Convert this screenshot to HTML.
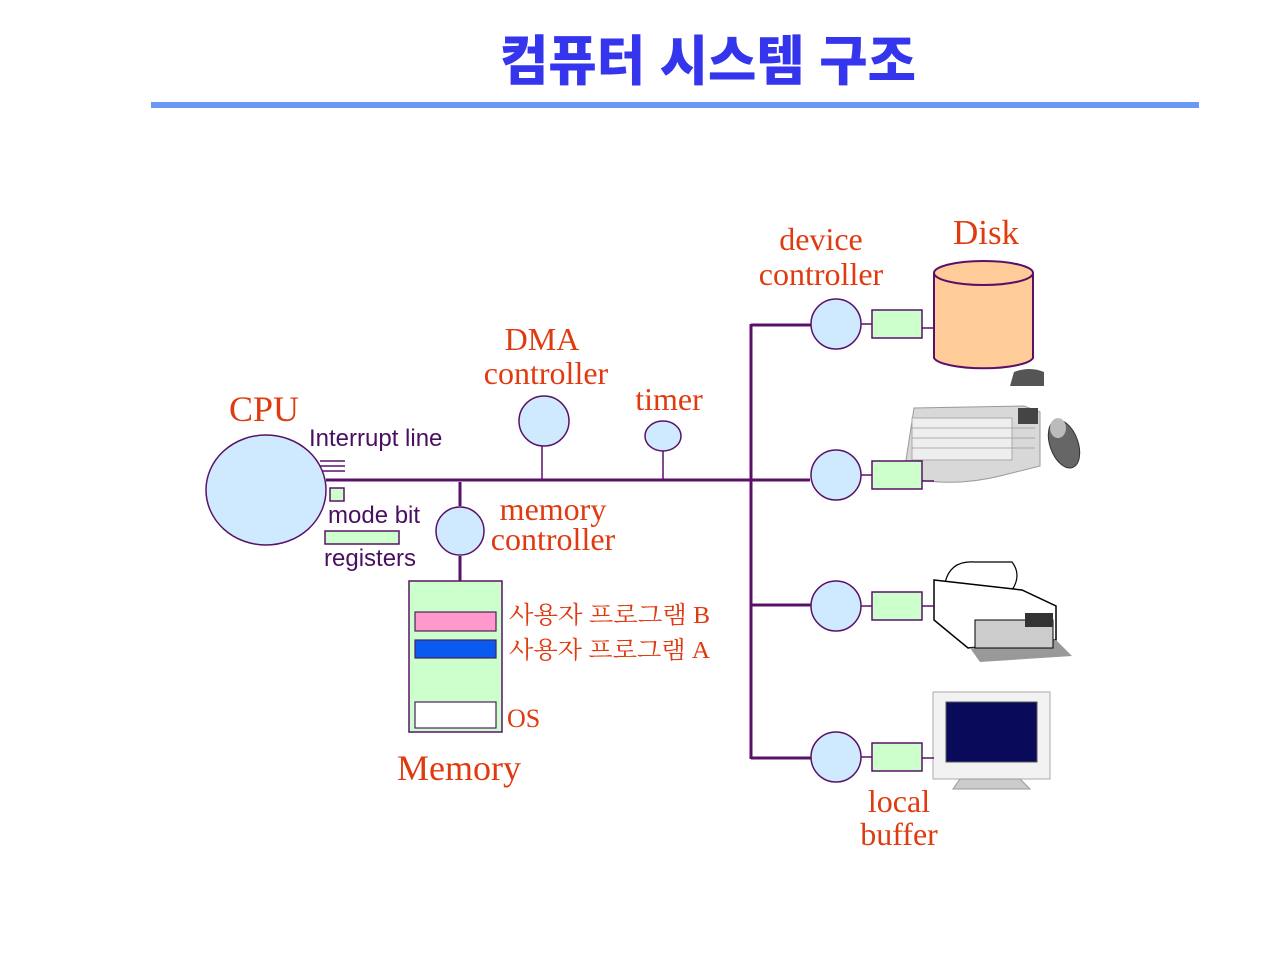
<!DOCTYPE html>
<html><head><meta charset="utf-8"><style>
html,body{margin:0;padding:0;background:#fff;width:1280px;height:960px;overflow:hidden}
svg{display:block}
.r{font-family:"Liberation Serif",serif;fill:#e03a10}
.s{font-family:"Liberation Sans",sans-serif;fill:#4a1060}
.k{font-family:"Liberation Serif","Noto Serif CJK SC","Noto Sans CJK KR",serif;fill:#e03a10}
</style></head><body>
<svg width="1280" height="960" viewBox="0 0 1280 960" xmlns="http://www.w3.org/2000/svg">
<text x="708" y="80" text-anchor="middle" font-family="'Liberation Sans','Noto Sans CJK KR',sans-serif" font-weight="900" font-size="54" fill="#3535ee" textLength="416" lengthAdjust="spacingAndGlyphs">컴퓨터 시스템 구조</text>
<rect x="151" y="102" width="1048" height="6" fill="#6b98f0"/>

<g stroke="#5a1068" fill="none" stroke-width="3">
<line x1="326" y1="480" x2="810" y2="480"/>
<line x1="751" y1="324" x2="751" y2="759"/>
<line x1="751" y1="325" x2="811" y2="325"/>
<line x1="751" y1="605" x2="811" y2="605"/>
<line x1="751" y1="758" x2="811" y2="758"/>
<line x1="460" y1="482" x2="460" y2="506"/>
<line x1="460" y1="556" x2="460" y2="581"/>
</g>
<g stroke="#5a1068" stroke-width="1.5" fill="none">
<line x1="542" y1="446" x2="542" y2="480"/>
<line x1="663" y1="451" x2="663" y2="480"/>
<line x1="861" y1="324" x2="872" y2="324"/>
<line x1="861" y1="475" x2="872" y2="475"/>
<line x1="861" y1="606" x2="872" y2="606"/>
<line x1="861" y1="757" x2="872" y2="757"/>
<line x1="320" y1="461" x2="345" y2="461"/>
<line x1="320" y1="466" x2="345" y2="466"/>
<line x1="320" y1="471" x2="345" y2="471"/>
</g>
<g fill="#cfe9ff" stroke="#5a1068" stroke-width="1.5">
<ellipse cx="266" cy="490" rx="60" ry="55"/>
<circle cx="544" cy="421" r="25"/>
<ellipse cx="663" cy="436" rx="18" ry="15"/>
<circle cx="460" cy="531" r="24"/>
<circle cx="836" cy="324" r="25"/>
<circle cx="836" cy="475" r="25"/>
<circle cx="836" cy="606" r="25"/>
<circle cx="836" cy="757" r="25"/>
</g>
<g fill="#ccffcc" stroke="#5a1068" stroke-width="1.5">
<rect x="330" y="488" width="14" height="13"/>
<rect x="325" y="531" width="74" height="13"/>
<rect x="409" y="581" width="93" height="151"/>
</g>
<rect x="415" y="612" width="81" height="19" fill="#ff99cc" stroke="#4a2060" stroke-width="1.2"/>
<rect x="415" y="640" width="81" height="18" fill="#0a5af0" stroke="#4a2060" stroke-width="1.2"/>
<rect x="415" y="702" width="81" height="26" fill="#fff" stroke="#4a2060" stroke-width="1.2"/>

<!-- Disk -->
<path d="M934 273 L934 358 A50 12 0 0 0 1033 358 L1033 273" fill="#ffcc99" stroke="#5a1068" stroke-width="2"/>
<ellipse cx="983.5" cy="273" rx="49.5" ry="12" fill="#ffcc99" stroke="#5a1068" stroke-width="2"/>

<!-- keyboard -->
<path d="M1010 386 L1014 372 Q1030 366 1044 372 L1044 386 Z" fill="#555"/>
<path d="M914 408 L1024 406 L1040 412 L1040 466 L1000 476 Q960 486 920 480 L906 460 Z" fill="#d8d8d8" stroke="#999"/>
<rect x="912" y="418" width="100" height="42" fill="#eee" stroke="#aaa"/>
<g stroke="#999" stroke-width="0.8">
<line x1="912" y1="428" x2="1035" y2="428"/><line x1="912" y1="438" x2="1035" y2="438"/><line x1="912" y1="448" x2="1035" y2="448"/>
</g>
<rect x="1018" y="408" width="20" height="16" fill="#444"/>
<ellipse cx="1064" cy="444" rx="14" ry="25" transform="rotate(-20 1064 444)" fill="#666" stroke="#333"/>
<ellipse cx="1058" cy="428" rx="8" ry="10" fill="#bbb"/>

<!-- printer -->
<path d="M945 583 Q950 560 975 562 L1012 562 Q1022 575 1012 590 L975 590 Z" fill="#fff" stroke="#000" stroke-width="1.2"/>
<path d="M934 580 L1022 590 L1056 606 L1056 640 L968 648 L934 620 Z" fill="#fff" stroke="#000" stroke-width="1.5"/>
<path d="M970 648 L1056 640 L1072 656 L980 662 Z" fill="#999"/>
<rect x="975" y="620" width="78" height="28" fill="#ccc" stroke="#000"/>
<rect x="1025" y="613" width="28" height="14" fill="#333"/>

<!-- monitor -->
<rect x="933" y="692" width="117" height="87" fill="#f2f2f2" stroke="#aaa"/>
<rect x="946" y="702" width="91" height="60" fill="#0a0a5a" stroke="#555"/>
<path d="M960 779 L1020 779 L1030 789 L953 789 Z" fill="#ccc" stroke="#999"/>

<!-- device boxes on top -->
<g stroke="#5a1068" stroke-width="1.5">
<line x1="922" y1="328" x2="934" y2="328"/>
<line x1="922" y1="481" x2="934" y2="481"/>
<line x1="922" y1="606" x2="934" y2="606"/>
<line x1="922" y1="758" x2="934" y2="758"/>
</g>
<g fill="#ccffcc" stroke="#5a1068" stroke-width="1.5">
<rect x="872" y="310" width="50" height="28"/>
<rect x="872" y="461" width="50" height="28"/>
<rect x="872" y="592" width="50" height="28"/>
<rect x="872" y="743" width="50" height="28"/>
</g>

<!-- labels -->
<text class="r" x="264" y="421" font-size="36" text-anchor="middle">CPU</text>
<text class="s" x="309" y="446" font-size="24">Interrupt line</text>
<text class="s" x="328" y="523" font-size="24">mode bit</text>
<text class="s" x="324" y="566" font-size="24">registers</text>
<text class="r" x="542" y="350" font-size="32" text-anchor="middle">DMA</text>
<text class="r" x="546" y="384" font-size="32" text-anchor="middle">controller</text>
<text class="r" x="669" y="410" font-size="32" text-anchor="middle">timer</text>
<text class="r" x="553" y="520" font-size="32" text-anchor="middle">memory</text>
<text class="r" x="553" y="550" font-size="32" text-anchor="middle">controller</text>
<text class="r" x="821" y="250" font-size="32" text-anchor="middle">device</text>
<text class="r" x="821" y="285" font-size="32" text-anchor="middle">controller</text>
<text class="r" x="986" y="244" font-size="35" text-anchor="middle">Disk</text>
<text class="k" x="509" y="623" font-size="24" textLength="201" lengthAdjust="spacingAndGlyphs">사용자 프로그램 B</text>
<text class="k" x="509" y="658" font-size="24" textLength="201" lengthAdjust="spacingAndGlyphs">사용자 프로그램 A</text>
<text class="r" x="507" y="727" font-size="26">OS</text>
<text class="r" x="459" y="780" font-size="36" text-anchor="middle">Memory</text>
<text class="r" x="899" y="812" font-size="32" text-anchor="middle">local</text>
<text class="r" x="899" y="845" font-size="32" text-anchor="middle">buffer</text>
</svg>
</body></html>
